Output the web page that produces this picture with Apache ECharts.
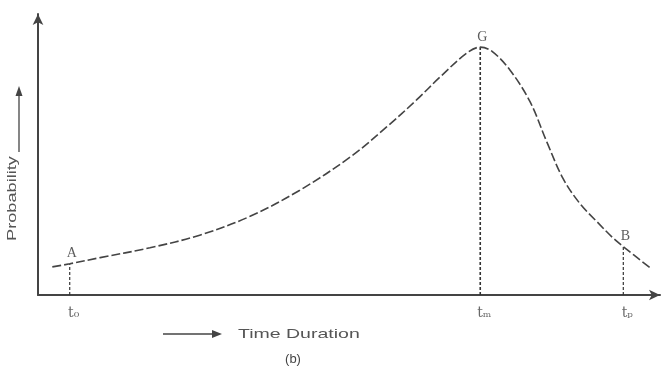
<!DOCTYPE html>
<html>
<head>
<meta charset="utf-8">
<script src="https://cdn.jsdelivr.net/npm/echarts@6/dist/echarts.min.js"></script>
<style>html,body{margin:0;padding:0;background:#fff;}#c{width:667px;height:371px;}</style>
</head>
<body>
<div id="c"></div>
<script>
// Curve: time duration (0-100) vs probability (0-100)
var timeValues = [2.3, 5.1, 10.0, 18.0, 26.0, 34.1, 42.1, 50.2, 56.1, 60.9, 64.6, 69.0, 71.1, 73.0, 75.9, 79.1, 81.8, 84.4, 87.1, 89.9, 92.4, 94.1, 98.4];
var probValues = [10.0, 11.1, 13.3, 16.8, 21.3, 28.0, 37.3, 49.1, 59.9, 69.5, 77.5, 86.2, 88.2, 86.7, 80.0, 68.8, 54.5, 41.5, 32.6, 26.0, 20.4, 17.2, 9.7];
// Key points A, G, B
var pointNames = ['A', 'G', 'B'];
var pointTimes = [5.1, 71.1, 94.1];
var pointProbs = [11.1, 88.2, 17.2];
// Tick labels under the key points
var tickLabels = ['t\u2080', 't\u2098', 't\u209a'];

var curve = timeValues.map(function (t, i) { return [t, probValues[i]]; });
var dropSeries = pointTimes.map(function (t, i) {
  return {
    type: 'line', silent: true, symbol: 'none',
    data: [[t, 0], [t, pointProbs[i]]],
    lineStyle: { color: '#333', width: i === 1 ? 1.6 : 1.2, type: [3, 2] },
    z: 2
  };
});

var chart = echarts.init(document.getElementById('c'), null, { renderer: 'canvas' });
chart.setOption({
  backgroundColor: '#fff',
  animation: false,
  grid: { left: 38, right: 7, top: 14, bottom: 76 },
  xAxis: {
    type: 'value', min: 0, max: 100,
    axisLine: { show: true, symbol: ['none', 'arrow'], symbolSize: [8, 11], lineStyle: { color: '#444', width: 2 } },
    axisTick: { show: false }, axisLabel: { show: false }, splitLine: { show: false }
  },
  yAxis: {
    type: 'value', min: 0, max: 100,
    axisLine: { show: true, symbol: ['none', 'arrow'], symbolSize: [8, 11], lineStyle: { color: '#444', width: 2 } },
    axisTick: { show: false }, axisLabel: { show: false }, splitLine: { show: false }
  },
  series: [
    {
      type: 'line', smooth: 0.35, symbol: 'none', data: curve,
      lineStyle: { color: '#444', width: 1.6, type: [9, 3] }, z: 3
    }
  ].concat(dropSeries).concat([
    {
      type: 'scatter', symbolSize: 0, silent: true,
      data: pointTimes.map(function (t, i) { return { value: [t, pointProbs[i]], name: pointNames[i] }; }),
      label: {
        show: true, position: 'top', distance: 3, offset: [2, 0],
        formatter: function (p) { return p.name; },
        fontFamily: 'Liberation Serif', fontSize: 14, color: '#333'
      }
    },
    {
      type: 'scatter', symbolSize: 0, silent: true,
      data: pointTimes.map(function (t, i) { return { value: [t, 0], name: tickLabels[i] }; }),
      label: {
        show: true, position: 'bottom', distance: 11, offset: [4, 0],
        formatter: function (p) { return p.name; },
        fontFamily: 'DejaVu Serif', fontSize: 14, color: '#444'
      }
    }
  ]),
  graphic: [
    { type: 'text', rotation: Math.PI / 2, x: 12, y: 241, scaleX: 1.4,
      style: { text: 'Probability', font: '13px "Liberation Sans"', fill: '#555', textAlign: 'left', textVerticalAlign: 'middle' } },
    { type: 'line', shape: { x1: 19, y1: 152, x2: 19, y2: 95 }, style: { stroke: '#444', lineWidth: 1.3 } },
    { type: 'polygon', shape: { points: [[19, 86], [15.5, 96], [22.5, 96]] }, style: { fill: '#444' } },
    { type: 'line', shape: { x1: 163, y1: 334, x2: 213, y2: 334 }, style: { stroke: '#444', lineWidth: 1.3 } },
    { type: 'polygon', shape: { points: [[222, 334], [212, 330], [212, 338]] }, style: { fill: '#444' } },
    { type: 'text', x: 238, y: 334, scaleX: 1.5,
      style: { text: 'Time Duration', font: '13px "Liberation Sans"', fill: '#555', textAlign: 'left', textVerticalAlign: 'middle' } },
    { type: 'text', x: 293, y: 359,
      style: { text: '(b)', font: '13px "Liberation Sans"', fill: '#444', textAlign: 'center', textVerticalAlign: 'middle' } }
  ]
});
</script>
</body>
</html>
